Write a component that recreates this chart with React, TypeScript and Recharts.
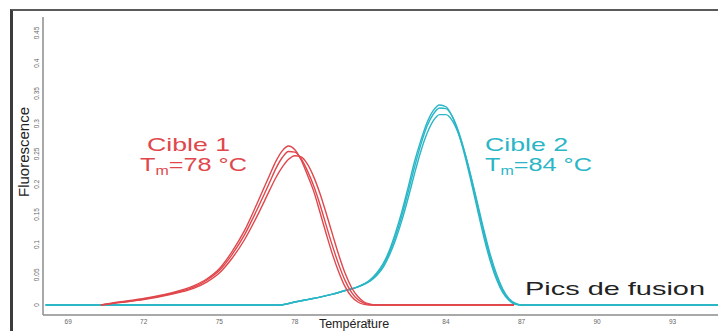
import { Line, LineChart, XAxis, YAxis } from 'recharts';

// melting peaks: temperature (°C) vs -dF/dT fluorescence
const redTemps = [
  70.3, 71, 72, 73, 74, 74.5, 75, 75.5, 76, 76.5, 77, 77.25, 77.5, 77.75, 78,
  78.25, 78.5, 78.75, 79, 79.25, 79.5, 79.75, 80, 80.25, 80.5, 80.75, 81, 81.25,
  81.5, 86.7,
];
const red1 = [
  0, 0.005, 0.011, 0.019, 0.032, 0.043, 0.06, 0.088, 0.123, 0.168, 0.215, 0.238,
  0.255, 0.263, 0.257, 0.24, 0.215, 0.188, 0.153, 0.117, 0.083, 0.054, 0.03,
  0.014, 0.005, 0.001, 0, 0, 0, 0,
];
const red2 = [
  0, 0.004, 0.01, 0.018, 0.03, 0.041, 0.057, 0.083, 0.116, 0.158, 0.203, 0.226,
  0.244, 0.254, 0.253, 0.242, 0.222, 0.197, 0.166, 0.131, 0.097, 0.066, 0.04,
  0.021, 0.009, 0.003, 0.0005, 0, 0, 0,
];
const red3 = [
  0, 0.004, 0.009, 0.017, 0.028, 0.038, 0.053, 0.077, 0.108, 0.147, 0.19, 0.211,
  0.228, 0.241, 0.247, 0.245, 0.233, 0.212, 0.184, 0.151, 0.116, 0.082, 0.052,
  0.029, 0.014, 0.005, 0.0015, 0, 0, 0,
];

const cyanTemps = [
  68.1, 77.4, 78, 78.5, 79, 79.5, 80, 80.5, 81, 81.25, 81.5, 81.75, 82, 82.25,
  82.5, 82.75, 83, 83.25, 83.5, 83.75, 84, 84.25, 84.5, 84.75, 85, 85.25, 85.5,
  85.75, 86, 86.25, 86.5, 86.75, 87, 95,
];
const cyan1 = [
  0, 0, 0.005, 0.009, 0.013, 0.018, 0.024, 0.03, 0.042, 0.053, 0.068, 0.09, 0.12,
  0.155, 0.195, 0.237, 0.272, 0.302, 0.322, 0.331, 0.328, 0.312, 0.284, 0.247,
  0.204, 0.158, 0.113, 0.074, 0.043, 0.021, 0.008, 0.001, 0, 0,
];
const cyan2 = [
  0, 0, 0.005, 0.009, 0.013, 0.018, 0.024, 0.03, 0.041, 0.051, 0.065, 0.086,
  0.114, 0.148, 0.187, 0.228, 0.265, 0.296, 0.316, 0.326, 0.325, 0.312, 0.287,
  0.252, 0.21, 0.165, 0.12, 0.08, 0.047, 0.024, 0.009, 0.002, 0, 0,
];
const cyan3 = [
  0, 0, 0.005, 0.009, 0.013, 0.018, 0.024, 0.03, 0.04, 0.049, 0.062, 0.082, 0.108,
  0.14, 0.177, 0.217, 0.254, 0.284, 0.305, 0.315, 0.315, 0.305, 0.283, 0.251,
  0.212, 0.169, 0.125, 0.085, 0.052, 0.027, 0.011, 0.003, 0, 0,
];

const xTicks = [69, 72, 75, 78, 81, 84, 87, 90, 93];
const yTicks = [0, 0.05, 0.1, 0.15, 0.2, 0.25, 0.3, 0.35, 0.4, 0.45];

const RED = '#e0474c';
const CYAN = '#2ab6c6';
const FONT = '"Liberation Sans", Arial, sans-serif';

const zip = (temps: number[], vals: number[]) =>
  temps.map((t, i) => ({ t, v: vals[i] }));

const redSeries = [red1, red2, red3].map((s) => zip(redTemps, s));
const cyanSeries = [cyan1, cyan2, cyan3].map((s) => zip(cyanTemps, s));

function XTick({ x, y, payload }: any) {
  return (
    <text x={x} y={y + 7} textAnchor="middle" fontSize={6.5} fill="#666" fontFamily={FONT}>
      {payload.value}
    </text>
  );
}

function YTick({ x, y, payload }: any) {
  const bx = x - 2;
  return (
    <text
      x={bx}
      y={y}
      transform={`rotate(-90 ${bx} ${y})`}
      textAnchor="middle"
      fontSize={6.5}
      fill="#666"
      fontFamily={FONT}
    >
      {String(payload.value)}
    </text>
  );
}

// annotation text, widened like the (horizontally stretched) source figure
function Tm({ x, y, value, color }: { x: number; y: number; value: string; color: string }) {
  return (
    <text transform={`translate(${x} ${y}) scale(1.33 1)`} x={0} y={0} fontSize={19} fill={color}>
      T<tspan fontSize={12} dy={4}>m</tspan>
      <tspan dy={-4}>{value}</tspan>
    </text>
  );
}

export default function App() {
  return (
    <div
      style={{
        position: 'absolute',
        left: 0,
        top: 0,
        width: 718,
        height: 331,
        overflow: 'hidden',
        background: '#fff',
      }}
    >
      <div
        style={{
          position: 'absolute',
          left: 10,
          top: 9,
          width: 800,
          height: 400,
          borderLeft: '3px solid #3c3c3c',
          borderTop: '2px solid #5a5a5a',
        }}
      />
      <div style={{ position: 'absolute', left: 0, top: 0 }}>
        <LineChart width={740} height={331} margin={{ top: 17, right: 17, left: 0, bottom: 0 }}>
          <XAxis
            type="number"
            dataKey="t"
            domain={[68, 95]}
            ticks={xTicks}
            tickSize={0}
            tickLine={false}
            axisLine={{ stroke: '#8c8c8c', strokeWidth: 1.5 }}
            tick={<XTick />}
            height={16}
            allowDataOverflow
          />
          <YAxis
            type="number"
            dataKey="v"
            domain={[-0.0165, 0.4765]}
            ticks={yTicks}
            tickSize={0}
            tickLine={false}
            axisLine={{ stroke: '#8c8c8c', strokeWidth: 1.5 }}
            tick={<YTick />}
            width={43}
            allowDataOverflow
          />
          {cyanSeries.map((d, i) => (
            <Line
              key={`c${i}`}
              data={d}
              dataKey="v"
              type="monotone"
              stroke={CYAN}
              strokeWidth={1.4}
              dot={false}
              isAnimationActive={false}
            />
          ))}
          {redSeries.map((d, i) => (
            <Line
              key={`r${i}`}
              data={d}
              dataKey="v"
              type="monotone"
              stroke={RED}
              strokeWidth={1.4}
              dot={false}
              isAnimationActive={false}
            />
          ))}
        </LineChart>
      </div>
      <svg
        width={718}
        height={331}
        style={{ position: 'absolute', left: 0, top: 0, pointerEvents: 'none' }}
        fontFamily={FONT}
      >
        <text
          x={29}
          y={152}
          transform="rotate(-90 29 152)"
          textAnchor="middle"
          fontSize={15}
          fill="#222"
        >
          Fluorescence
        </text>
        <text x={354} y={327.5} textAnchor="middle" fontSize={12.5} fill="#222">
          Température
        </text>
        <text x={147} y={151} fontSize={19} fill={RED} textLength={83} lengthAdjust="spacingAndGlyphs">
          Cible 1
        </text>
        <Tm x={140} y={171} value="=78 °C" color={RED} />
        <text x={485} y={151} fontSize={19} fill={CYAN} textLength={83} lengthAdjust="spacingAndGlyphs">
          Cible 2
        </text>
        <Tm x={485} y={171} value="=84 °C" color={CYAN} />
        <text x={525} y={295} fontSize={19} fill="#222" textLength={180} lengthAdjust="spacingAndGlyphs">
          Pics de fusion
        </text>
      </svg>
    </div>
  );
}
